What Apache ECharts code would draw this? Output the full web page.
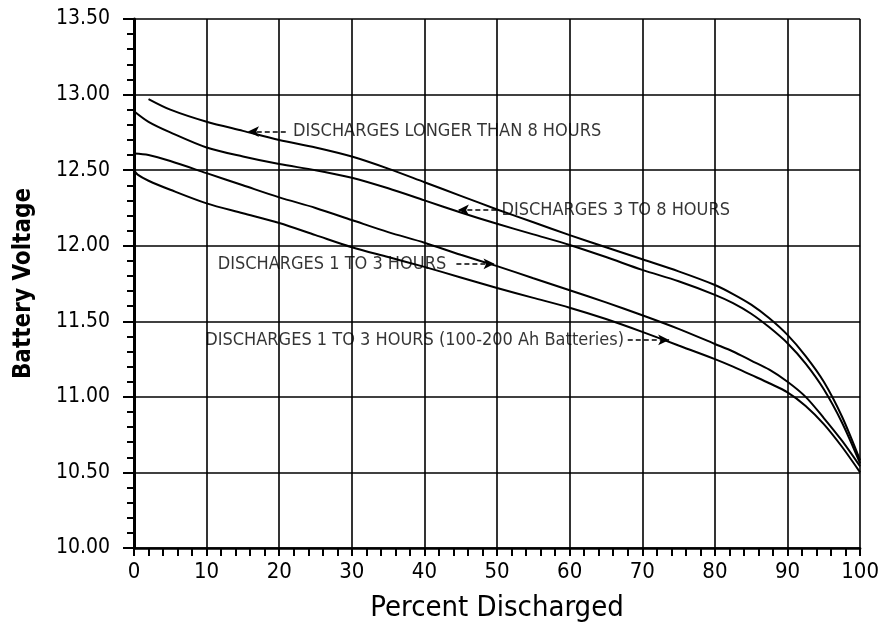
<!DOCTYPE html>
<html>
<head>
<meta charset="utf-8">
<script src="https://cdn.jsdelivr.net/npm/echarts@6/dist/echarts.min.js"></script>
<style>
html,body{margin:0;padding:0;background:#fff;}
#chart{width:882px;height:635px;}
</style>
</head>
<body>
<div id="chart"></div>
<script>
// ---- data ----
const xAxisName = 'Percent Discharged';
const yAxisName = 'Battery Voltage';
const xTicks = [0, 10, 20, 30, 40, 50, 60, 70, 80, 90, 100];
const yTicks = ['10.00','10.50','11.00','11.50','12.00','12.50','13.00','13.50'];

const pctLonger8 = [2,5,10,15,20,25,30,35,40,45,50,55,60,65,70,75,80,82.5,85,87.5,90,92.5,95,97.5,100];
const voltLonger8 = [12.97,12.90,12.82,12.76,12.70,12.65,12.59,12.51,12.42,12.33,12.24,12.155,12.07,11.99,11.91,11.83,11.74,11.68,11.61,11.52,11.41,11.27,11.10,10.87,10.58];

const pct3to8 = [0,2,5,10,15,20,25,30,35,40,45,50,55,60,65,70,75,80,82.5,85,87.5,90,92.5,95,97.5,100];
const volt3to8 = [12.89,12.82,12.75,12.65,12.59,12.54,12.50,12.45,12.38,12.30,12.22,12.145,12.075,12.005,11.925,11.84,11.765,11.675,11.62,11.55,11.46,11.355,11.22,11.05,10.83,10.56];

const pct1to3 = [0,2,5,10,15,20,25,30,35,40,45,50,55,60,65,70,75,80,82.5,85,87.5,90,92.5,95,97.5,100];
const volt1to3 = [12.61,12.60,12.56,12.48,12.40,12.32,12.25,12.17,12.09,12.02,11.94,11.865,11.785,11.705,11.625,11.54,11.45,11.35,11.30,11.24,11.18,11.10,11.00,10.86,10.71,10.54];

const pct1to3Ah = [0,0.5,2,5,10,15,20,25,30,35,40,45,50,55,60,65,70,75,80,82.5,85,87.5,90,92.5,95,97.5,100];
const volt1to3Ah = [12.50,12.47,12.43,12.37,12.28,12.215,12.15,12.07,11.99,11.925,11.86,11.79,11.72,11.655,11.59,11.515,11.43,11.34,11.25,11.20,11.145,11.09,11.03,10.94,10.82,10.67,10.50];

// annotation anchors in data units: arrow tip, arrow tail, text anchor
const noteTexts = ['DISCHARGES LONGER THAN 8 HOURS','DISCHARGES 3 TO 8 HOURS','DISCHARGES 1 TO 3 HOURS','DISCHARGES 1 TO 3 HOURS (100-200 Ah Batteries)'];
const noteTips  = [[15.7,12.755],[44.6,12.237],[49.65,11.88],[73.7,11.377]];
const noteTails = [[20.9,12.755],[49.9,12.237],[44.4,11.88],[68.0,11.377]];
const noteAnchors = [[21.9,12.755],[50.6,12.237],[43.0,11.88],[67.5,11.377]];
const noteSides = ['right','right','left','left'];

// ---- chart ----
const FONT = "'DejaVu Sans Condensed','Liberation Sans',sans-serif";
const zip = (xs, ys) => xs.map((x, i) => [x, ys[i]]);
const curveStyle = {color:'#000', width:2};
function curve(name, xs, ys){
  return {name, type:'line', data: zip(xs, ys), smooth:0.3,
    showSymbol:false, symbol:'none', lineStyle: curveStyle, z:5, silent:true};
}

const arrowLines = noteTips.map((tip, i) => [{coord: noteTails[i]}, {coord: tip}]);
const labelPoints = noteAnchors.map((p, i) => ({
  value: p, name: noteTexts[i],
  label: {show:true, position: noteSides[i], distance: 0, formatter: noteTexts[i],
          color:'#000', fontFamily: FONT, fontSize: 18}
}));

const chart = echarts.init(document.getElementById('chart'), null, {renderer:'canvas'});
chart.setOption({
  backgroundColor:'#fff',
  animation:false,
  grid:{left:134, top:19, right:21, bottom:87, containLabel:false},
  xAxis:{
    type:'value', min:0, max:100, interval:10,
    name: xAxisName, nameLocation:'middle', nameGap:46,
    nameTextStyle:{fontFamily:FONT, fontSize:29, color:'#000'},
    axisLine:{show:true, onZero:false, lineStyle:{color:'#000', width:2.5}},
    axisTick:{show:true, length:8, lineStyle:{color:'#000', width:2}},
    minorTick:{show:true, splitNumber:5, length:8, lineStyle:{color:'#000', width:2}},
    axisLabel:{formatter: v => String(xTicks[xTicks.indexOf(v)]), margin:13, fontFamily:FONT, fontSize:22, color:'#000'},
    splitLine:{show:true, lineStyle:{color:'#000', width:1.6}}
  },
  yAxis:{
    type:'value', min:10, max:13.5, interval:0.5,
    name: yAxisName, nameLocation:'middle', nameGap:98, nameRotate:90,
    nameTextStyle:{fontFamily:FONT, fontSize:24, fontWeight:'bold', color:'#000'},
    axisLine:{show:true, onZero:false, lineStyle:{color:'#000', width:3}},
    axisTick:{show:true, length:11, lineStyle:{color:'#000', width:2}},
    minorTick:{show:true, splitNumber:5, length:7, lineStyle:{color:'#000', width:2}},
    axisLabel:{formatter: v => yTicks[Math.round((v - 10) / 0.5)], margin:24, fontFamily:FONT, fontSize:21, color:'#000'},
    splitLine:{show:true, lineStyle:{color:'#000', width:1.6}}
  },
  series:[
    curve('Discharges longer than 8 hours', pctLonger8, voltLonger8),
    curve('Discharges 3 to 8 hours', pct3to8, volt3to8),
    curve('Discharges 1 to 3 hours', pct1to3, volt1to3),
    curve('Discharges 1 to 3 hours (100-200 Ah Batteries)', pct1to3Ah, volt1to3Ah),
    {
      name:'notes', type:'scatter', data: labelPoints, symbolSize:0.1, silent:true, z:6,
      itemStyle:{color:'rgba(0,0,0,0)'},
      markLine:{
        silent:true, symbol:['none','arrow'], symbolSize:[8,11], label:{show:false},
        lineStyle:{color:'#000', width:1.5, type:[5,3]},
        data: arrowLines
      }
    }
  ]
});
</script>
</body>
</html>
